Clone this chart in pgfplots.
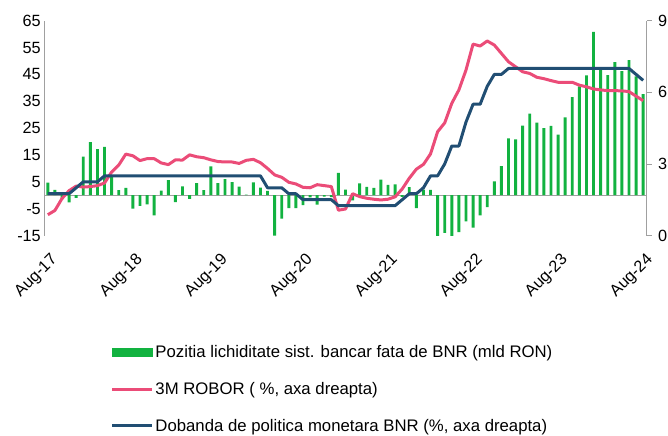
\documentclass[border=0pt]{standalone}
\usepackage{fontspec}
\setmainfont{Liberation Sans}
\usepackage{pgfplots}
\pgfplotsset{compat=1.18}
\usepackage{pgfplotstable}

\definecolor{barG}{RGB}{18,178,64}
\definecolor{robor}{RGB}{235,76,120}
\definecolor{dob}{RGB}{33,78,115}
\definecolor{axg}{RGB}{160,160,160}

\pgfplotstableread{
x y
0 4.7
1 2.0
2 -1.5
3 -2.7
4 -1.0
5 14.4
6 19.8
7 17.2
8 18.0
9 6.8
10 1.9
11 2.7
12 -5.0
13 -4.0
14 -3.4
15 -7.5
16 1.7
17 5.6
18 -2.6
19 3.3
20 -1.4
21 4.5
22 1.9
23 10.7
24 4.5
25 6.0
26 4.9
27 3.2
28 0.2
29 4.8
30 2.8
31 1.6
32 -15.0
33 -8.7
34 -4.8
35 -4.8
36 -3.7
37 -0.8
38 -3.5
39 -0.5
40 -0.7
41 8.3
42 2.1
43 -1.9
44 4.4
45 3.1
46 2.7
47 5.8
48 3.9
49 4.0
50 -0.6
51 3.0
52 -4.8
53 2.1
54 2.0
55 -15.8
56 -14.0
57 -15.8
58 -13.7
59 -9.7
60 -12.1
61 -7.5
62 -4.4
63 5.2
64 10.8
65 21.2
66 20.8
67 25.9
68 30.4
69 27.0
70 25.0
71 25.8
72 22.6
73 29.0
74 36.5
75 40.5
76 44.6
77 60.8
78 47.0
79 44.7
80 49.6
81 46.2
82 50.3
83 44.3
84 37.7
}\bars

\pgfplotstableread{
x y
0 0.87
1 1.05
2 1.55
3 1.88
4 2.07
5 2.03
6 2.05
7 2.09
8 2.20
9 2.66
10 2.95
11 3.41
12 3.34
13 3.14
14 3.22
15 3.22
16 3.04
17 2.97
18 3.17
19 3.16
20 3.38
21 3.30
22 3.26
23 3.17
24 3.10
25 3.08
26 3.08
27 3.02
28 3.15
29 3.19
30 3.05
31 2.81
32 2.54
33 2.44
34 2.23
35 2.16
36 2.02
37 2.00
38 2.13
39 2.09
40 2.05
41 1.06
42 1.11
43 1.75
44 1.63
45 1.56
46 1.52
47 1.49
48 1.52
49 1.62
50 1.95
51 2.40
52 2.78
53 2.98
54 3.42
55 4.35
56 4.72
57 5.54
58 6.10
59 6.93
60 8.02
61 7.94
62 8.15
63 7.98
64 7.63
65 7.28
66 7.07
67 6.86
68 6.79
69 6.63
70 6.57
71 6.49
72 6.42
73 6.42
74 6.42
75 6.30
76 6.23
77 6.14
78 6.10
79 6.07
80 6.07
81 6.06
82 6.03
83 5.84
84 5.65
}\robor

\pgfplotstableread{
x y
0 1.75
1 1.75
2 1.75
3 1.75
4 2.00
5 2.25
6 2.25
7 2.25
8 2.50
9 2.50
10 2.50
11 2.50
12 2.50
13 2.50
14 2.50
15 2.50
16 2.50
17 2.50
18 2.50
19 2.50
20 2.50
21 2.50
22 2.50
23 2.50
24 2.50
25 2.50
26 2.50
27 2.50
28 2.50
29 2.50
30 2.50
31 2.00
32 2.00
33 2.00
34 1.75
35 1.75
36 1.50
37 1.50
38 1.50
39 1.50
40 1.50
41 1.25
42 1.25
43 1.25
44 1.25
45 1.25
46 1.25
47 1.25
48 1.25
49 1.25
50 1.50
51 1.75
52 1.75
53 2.00
54 2.50
55 2.50
56 3.00
57 3.75
58 3.75
59 4.75
60 5.50
61 5.50
62 6.25
63 6.75
64 6.75
65 7.00
66 7.00
67 7.00
68 7.00
69 7.00
70 7.00
71 7.00
72 7.00
73 7.00
74 7.00
75 7.00
76 7.00
77 7.00
78 7.00
79 7.00
80 7.00
81 7.00
82 7.00
83 6.75
84 6.50
}\dob

\begin{document}
\begin{tikzpicture}
\pgfplotsset{
 common/.style={
  scale only axis, width=602.4bp, height=214.8bp,
  xmin=-0.5, xmax=84.5,
  /pgf/number format/assume math mode=true,
  tick label style={font=\fontsize{16.3}{19}\selectfont},
 }
}
\begin{axis}[common, name=ax,
  ymin=-15, ymax=65, ytick={-15,-5,...,65},
  axis y line*=left, axis x line*=bottom,
  x axis line style={draw=none},
  y axis line style={draw=axg, line width=0.8bp, -},
  major tick length=0pt,
  xtick={0,12,...,84},
  xticklabels={Aug-17,Aug-18,Aug-19,Aug-20,Aug-21,Aug-22,Aug-23,Aug-24},
  xticklabel style={xshift=2bp, yshift=-12bp, rotate=45, anchor=north east},
  extra y ticks={0}, extra y tick labels={},
  extra y tick style={grid=major, major grid style={draw=axg, line width=0.8bp}},
]
\addplot[ybar, bar width=2.9bp, fill=barG, draw=none] table[x=x,y=y]{\bars};
\end{axis}
\begin{axis}[common,
  ymin=0, ymax=9, ytick={0,3,6,9},
  axis y line*=right, axis x line=none,
  y axis line style={draw=axg, line width=0.8bp, -},
  ytick style={draw=axg, line width=0.8bp},
  yticklabel style={xshift=3bp},
  tick align=outside, major tick length=5bp,
  legend image code/.code={\draw[#1] (0bp,0bp) -- (40bp,0bp);},
  legend cell align=left,
  legend style={at={(0,0)}, anchor=north west, xshift=66bp, yshift=-108bp,
    draw=none, fill=none, inner sep=0pt, row sep=19bp,
    font=\fontsize{16.8}{19}\selectfont},
]
\addlegendimage{legend image code/.code={\fill[barG] (0bp,-4bp) rectangle (40bp,4bp);}}
\addlegendentry{Pozitia lichiditate sist. bancar fata de BNR (mld RON)}
\addplot[robor, line width=3bp, line join=round] table[x=x,y=y]{\robor};
\addlegendentry{3M ROBOR ( \%, axa dreapta)}
\addplot[dob, line width=3bp, line join=round] table[x=x,y=y]{\dob};
\addlegendentry{Dobanda de politica monetara BNR (\%, axa dreapta)}
\end{axis}
\pgfresetboundingbox
\path ([xshift=-44.3bp, yshift=-200.5bp]ax.south west) rectangle ([xshift=623.7bp, yshift=235.5bp]ax.south west);
\end{tikzpicture}
\end{document}
